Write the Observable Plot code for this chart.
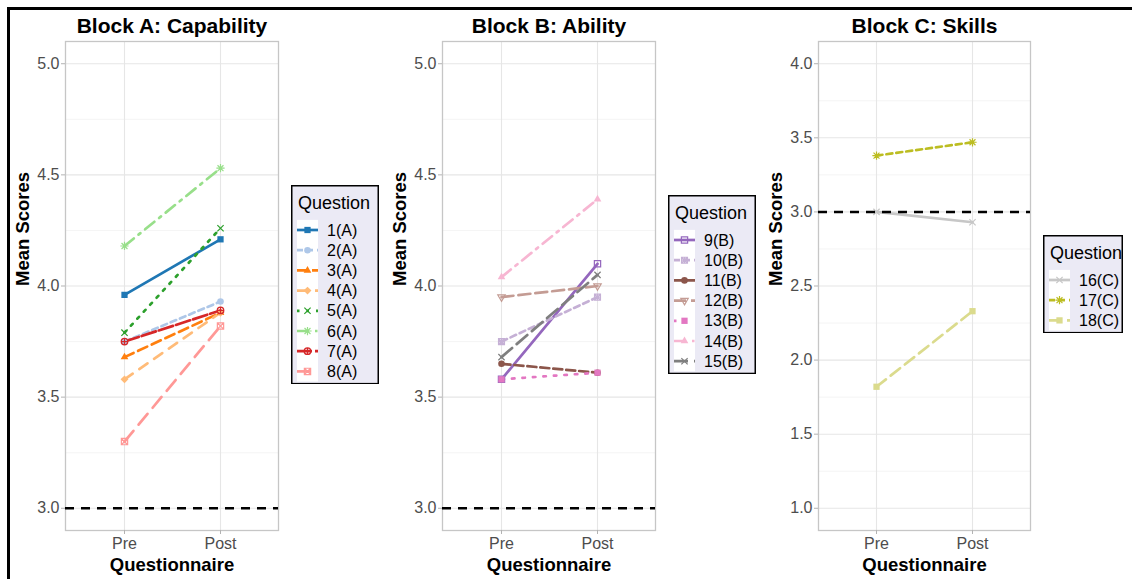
<!DOCTYPE html>
<html><head><meta charset="utf-8">
<script src="https://cdn.jsdelivr.net/npm/d3@7"></script>
<script src="https://cdn.jsdelivr.net/npm/@observablehq/plot@0.6"></script>
<style>
body{margin:0;background:#fff;}
#wrap{position:relative;width:1132px;height:579px;overflow:hidden;background:#fff;font-family:"Liberation Sans",Arial,sans-serif;}
#frame{position:absolute;left:7px;top:7px;width:1300px;height:800px;border-top:3px solid #000;border-left:3px solid #000;pointer-events:none;z-index:5;}
</style></head><body><div id="wrap"><div id="frame"></div></div>
<script>
// ---------- data ----------
const phases = ["Pre", "Post"];

const questionsA = ["1(A)","2(A)","3(A)","4(A)","5(A)","6(A)","7(A)","8(A)"];
const preA  = [3.96, 3.75, 3.68, 3.58, 3.79, 4.18, 3.75, 3.30];
const postA = [4.21, 3.93, 3.88, 3.88, 4.26, 4.53, 3.89, 3.82];

const questionsB = ["9(B)","10(B)","11(B)","12(B)","13(B)","14(B)","15(B)"];
const preB  = [3.58, 3.75, 3.65, 3.95, 3.58, 4.04, 3.68];
const postB = [4.10, 3.95, 3.61, 4.00, 3.61, 4.39, 4.05];

const questionsC = ["16(C)","17(C)","18(C)"];
const preC  = [3.00, 3.38, 1.82];
const postC = [2.93, 3.47, 2.33];

const ticksAB = [3.0, 3.5, 4.0, 4.5, 5.0];
const minorAB = [3.25, 3.75, 4.25, 4.75];
const ticksC = [1.0, 1.5, 2.0, 2.5, 3.0, 3.5, 4.0];
const minorC = [1.25, 1.75, 2.25, 2.75, 3.25, 3.75];
const reference = [3];

// ---------- styles ----------
const colorsA = ["#1f77b4","#aec7e8","#ff7f0e","#ffbb78","#2ca02c","#98df8a","#d62728","#ff9896"];
const dashesA = [null,"6,4","10,5","10,8","2.5,7","12,6,2.5,6","15,3","14,8"];
const shapesA = ["square","circle","triangle","diamond","times","asterisk","circlePlus","squareCross"];

const colorsB = ["#9467bd","#c5b0d5","#8c564b","#c49c94","#e377c2","#f7b6d2","#7f7f7f"];
const dashesB = [null,"6,4","9,4","12,5","2.5,8","12,6,2.5,6","14,6"];
const shapesB = ["squareOpen","squareStar","circle","triangleDownOpen","square","triangle","times"];

const colorsC = ["#c7c7c7","#bcbd22","#dbdb8d"];
const dashesC = [null,"6,4","12,6"];
const shapesC = ["times","asterisk","square"];

// ---------- symbols ----------
function mk(f){ return {draw(c, size){ const r = Math.sqrt(size/Math.PI); f(c, r); }}; }
function sq(c,s){ c.moveTo(-s,-s); c.lineTo(s,-s); c.lineTo(s,s); c.lineTo(-s,s); c.closePath(); }
function circ(c,r){ c.moveTo(r,0); c.arc(0,0,r,0,2*Math.PI); c.closePath(); }
function xx(c,s){ c.moveTo(-s,-s); c.lineTo(s,s); c.moveTo(-s,s); c.lineTo(s,-s); }
function pl(c,s){ c.moveTo(-s,0); c.lineTo(s,0); c.moveTo(0,-s); c.lineTo(0,s); }
const SYM = {
  square:      {fill:true,  sym: mk((c,r)=>sq(c, r*0.95))},
  circle:      {fill:true,  sym: mk((c,r)=>circ(c, r))},
  triangle:    {fill:true,  sym: mk((c,r)=>{const R=r*1.35; c.moveTo(0,-R); c.lineTo(R*0.866,R/2); c.lineTo(-R*0.866,R/2); c.closePath();})},
  diamond:     {fill:true,  sym: mk((c,r)=>{const R=r*1.2; c.moveTo(0,-R); c.lineTo(R,0); c.lineTo(0,R); c.lineTo(-R,0); c.closePath();})},
  times:       {fill:false, sym: mk((c,r)=>xx(c, r*0.95))},
  asterisk:    {fill:false, sym: mk((c,r)=>{xx(c, r*0.9); pl(c, r*1.25);})},
  circlePlus:  {fill:false, sym: mk((c,r)=>{circ(c, r); pl(c, r);})},
  squareCross: {fill:false, sym: mk((c,r)=>{sq(c, r*0.95); xx(c, r*0.95);})},
  squareOpen:  {fill:false, sym: mk((c,r)=>sq(c, r*0.95))},
  squareStar:  {fill:false, sym: mk((c,r)=>{sq(c, r*0.9); xx(c, r*0.9); pl(c, r*0.9);})},
  triangleDownOpen: {fill:false, sym: mk((c,r)=>{const R=r*1.3; c.moveTo(0,R); c.lineTo(R*0.866,-R/2); c.lineTo(-R*0.866,-R/2); c.closePath();})}
};

const wrap = document.getElementById("wrap");

function panel(o){
  const rows = o.qs.flatMap((q,i)=>[{q, phase:"Pre", value:o.pre[i]}, {q, phase:"Post", value:o.post[i]}]);
  const marks = [
    Plot.ruleY(o.minor, {stroke:"#f1f1f1", strokeWidth:0.8}),
    Plot.ruleY(o.ticks, {stroke:"#e6e6e6", strokeWidth:1.1}),
    Plot.ruleX(phases, {stroke:"#e6e6e6", strokeWidth:1.1}),
    Plot.frame({stroke:"#c6c6c6", strokeWidth:1.3}),
    Plot.axisY(o.ticks, {anchor:"left", tickFormat:d3.format(".1f"), tickSize:4, tickPadding:2, stroke:"#b3b3b3", fill:"#4d4d4d", label:null}),
    Plot.axisX({anchor:"bottom", tickSize:4, tickPadding:3, stroke:"#b3b3b3", fill:"#4d4d4d", label:null})
  ];
  o.qs.forEach((q,i)=>{
    const d = rows.filter(r=>r.q===q);
    marks.push(Plot.line(d, {x:"phase", y:"value", stroke:o.colors[i], strokeWidth:2.7, strokeDasharray:o.dashes[i] || undefined}));
  });
  o.qs.forEach((q,i)=>{
    const d = rows.filter(r=>r.q===q);
    const s = SYM[o.shapes[i]];
    marks.push(Plot.dot(d, {x:"phase", y:"value", symbol:s.sym, r:3.3,
      fill: s.fill ? o.colors[i] : "none", stroke: s.fill ? "none" : o.colors[i], strokeWidth:1.2}));
  });
  marks.push(Plot.ruleY(reference, {stroke:"#000", strokeWidth:2.5, strokeDasharray:"9,7"}));
  marks.push(Plot.text([o.title], {text:d=>d, frameAnchor:"top", dy:-9, lineAnchor:"bottom", fontSize:21, fontWeight:"bold", fill:"#000"}));
  marks.push(Plot.text(["Questionnaire"], {text:d=>d, frameAnchor:"bottom", dy:40, lineAnchor:"bottom", fontSize:18.5, fontWeight:"bold", fill:"#000"}));
  marks.push(Plot.text(["Mean Scores"], {text:d=>d, frameAnchor:"left", dx:-42, rotate:-90, lineAnchor:"middle", fontSize:18.5, fontWeight:"bold", fill:"#000"}));
  const chart = Plot.plot({
    width:o.width, height:579,
    marginLeft:o.marginLeft, marginRight:o.marginRight, marginTop:41, marginBottom:49,
    style:{fontFamily:"'Liberation Sans', Arial, sans-serif", fontSize:"16px", background:"transparent", overflow:"visible"},
    x:{type:"point", domain:phases, padding:0.6},
    y:{domain:o.domain},
    marks
  });
  chart.style.position = "absolute";
  chart.style.left = o.left + "px";
  chart.style.top = "0px";
  wrap.appendChild(chart);
}

function legend(o){
  const n = o.qs.length, rowH = 20.2, h = 45 + (n-1)*rowH + 13;
  const svg = d3.select(wrap).append("svg")
    .attr("width", o.w).attr("height", h)
    .style("position","absolute").style("left", o.left+"px").style("top", o.top+"px");
  svg.append("rect").attr("x",0.75).attr("y",0.75).attr("width",o.w-1.5).attr("height",h-1.5)
    .attr("fill","#ebeaf5").attr("stroke","#000").attr("stroke-width",1.5);
  svg.append("text").attr("x",7).attr("y",17.7).attr("dy","0.35em").attr("font-size",18).attr("fill","#000").text("Question");
  svg.append("rect").attr("x",6).attr("y",45-rowH/2).attr("width",21).attr("height",n*rowH).attr("fill","#fff");
  o.qs.forEach((q,i)=>{
    const cy = 45 + i*rowH;
    const g = svg.append("g");
    g.append("line").attr("x1",6).attr("x2",27).attr("y1",cy).attr("y2",cy)
      .attr("stroke",o.colors[i]).attr("stroke-width",2.7).attr("stroke-dasharray",o.dashes[i] || null);
    const s = SYM[o.shapes[i]];
    g.append("path").attr("transform",`translate(16.5,${cy})`)
      .attr("d", d3.symbol(s.sym, Math.PI*3.3*3.3)())
      .attr("fill", s.fill ? o.colors[i] : "none").attr("stroke", s.fill ? "none" : o.colors[i]).attr("stroke-width",1.2);
    svg.append("text").attr("x",36).attr("y",cy).attr("dy","0.35em").attr("font-size",16).attr("fill","#000").text(q);
  });
}

panel({left:0, width:290, marginLeft:65, marginRight:12, title:"Block A: Capability",
  qs:questionsA, pre:preA, post:postA, colors:colorsA, dashes:dashesA, shapes:shapesA,
  domain:[2.9,5.1], ticks:ticksAB, minor:minorAB});
panel({left:380, width:280, marginLeft:62, marginRight:5, title:"Block B: Ability",
  qs:questionsB, pre:preB, post:postB, colors:colorsB, dashes:dashesB, shapes:shapesB,
  domain:[2.9,5.1], ticks:ticksAB, minor:minorAB});
panel({left:760, width:275, marginLeft:58, marginRight:5, title:"Block C: Skills",
  qs:questionsC, pre:preC, post:postC, colors:colorsC, dashes:dashesC, shapes:shapesC,
  domain:[0.85,4.15], ticks:ticksC, minor:minorC});

legend({left:291, top:185, w:88, qs:questionsA, colors:colorsA, dashes:dashesA, shapes:shapesA});
legend({left:668, top:195, w:88, qs:questionsB, colors:colorsB, dashes:dashesB, shapes:shapesB});
legend({left:1043, top:235, w:80, qs:questionsC, colors:colorsC, dashes:dashesC, shapes:shapesC});
</script></body></html>
